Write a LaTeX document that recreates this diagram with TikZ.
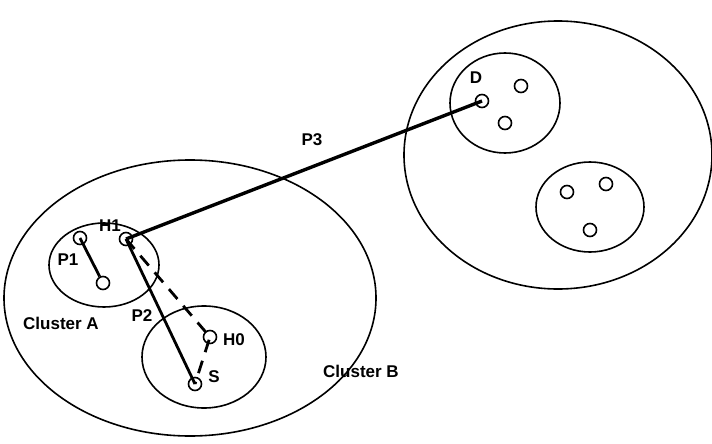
\documentclass[tikz,border=0pt]{standalone}
\usepackage{fontspec}
\setmainfont{Liberation Sans}
\begin{document}
\begin{tikzpicture}[x=1pt,y=-1pt,
  region/.style={draw,line width=1.6pt},
  host/.style={circle,draw,line width=1.6pt,minimum size=13pt,inner sep=0pt},
  lbl/.style={font=\fontsize{17}{17}\selectfont\bfseries,inner sep=0pt},
  path3/.style={line width=3.4pt},
  path2/.style={line width=2.8pt},
  dashpath/.style={line width=2.8pt,dash pattern=on 13pt off 9pt}]
\useasboundingbox (0,0) rectangle (712,444);
% clusters
\draw[region] (190,298) ellipse [x radius=186, y radius=138];
\draw[region] (558,155) ellipse [x radius=154, y radius=134];
\draw[region] (104,265) ellipse [x radius=55, y radius=42];
\draw[region] (204,357) ellipse [x radius=62, y radius=51];
\draw[region] (505,103) ellipse [x radius=55, y radius=50];
\draw[region] (590,207) ellipse [x radius=54, y radius=45];
% hosts
\node[host] (p1a) at (80,238) {};
\node[host] (p1b) at (103,283) {};
\node[host] (h1) at (126,239) {};
\node[host] (h0) at (210,337) {};
\node[host] (s) at (195,384) {};
\node[host] (d) at (482,101) {};
\node[host] (r1) at (521,86) {};
\node[host] (r2) at (505,123) {};
\node[host] (r3) at (567,192) {};
\node[host] (r4) at (606,184) {};
\node[host] (r5) at (590,230) {};
% paths
\draw[path2] (p1a.center) -- (p1b);
\draw[path3] (h1.center) -- (d.center);
\draw[path2] (h1.center) -- (s.center);
\draw[dashpath] (h1.center) -- (h0.center) -- (s.center);
% labels
\node[lbl] at (110,226) {H1};
\node[lbl] at (68,260) {P1};
\node[lbl] at (61,323) {Cluster A};
\node[lbl] at (142,316) {P2};
\node[lbl] at (234,340) {H0};
\node[lbl] at (214,377) {S};
\node[lbl] at (361,371) {Cluster B};
\node[lbl] at (312,140) {P3};
\node[lbl] at (476,78) {D};
\end{tikzpicture}
\end{document}
